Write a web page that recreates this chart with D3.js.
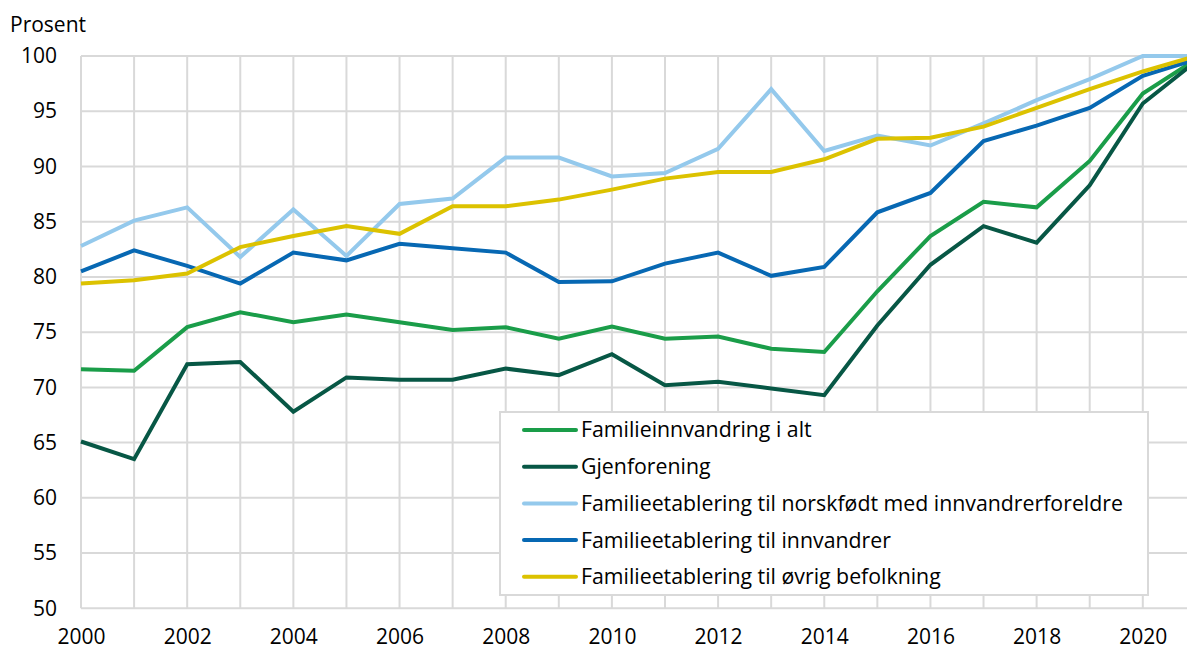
<!DOCTYPE html>
<html>
<head>
<meta charset="utf-8">
<script src="https://cdn.jsdelivr.net/npm/d3@7"></script>
<style>
  body { margin: 0; background: #fff; }
  svg { display: block; font-family: "Open Sans", "Noto Sans", sans-serif; }
</style>
</head>
<body>
<div id="chart"></div>
<script>
let svgWidth = 1187;
let svgHeight = 650;

// data
let years = d3.range(2000, 2022);
let familieinnvandring = [71.65, 71.5, 75.45, 76.8, 75.9, 76.6, 75.9, 75.2, 75.45, 74.4, 75.5, 74.4, 74.6, 73.5, 73.2, 78.7, 83.7, 86.8, 86.3, 90.5, 96.6, 99.7];
let gjenforening = [65.1, 63.5, 72.1, 72.3, 67.8, 70.9, 70.7, 70.7, 71.7, 71.1, 73.0, 70.2, 70.5, 69.9, 69.3, 75.6, 81.1, 84.6, 83.1, 88.3, 95.7, 99.5];
let norskfodt = [82.8, 85.1, 86.3, 81.8, 86.1, 81.9, 86.6, 87.1, 90.8, 90.8, 89.1, 89.4, 91.6, 97.0, 91.4, 92.8, 91.9, 93.9, 96.0, 97.9, 100, 100];
let innvandrer = [80.5, 82.4, 81.0, 79.4, 82.2, 81.5, 83.0, 82.6, 82.2, 79.55, 79.6, 81.2, 82.2, 80.1, 80.9, 85.85, 87.6, 92.3, 93.7, 95.3, 98.2, 99.7];
let ovrig = [79.4, 79.7, 80.3, 82.7, 83.7, 84.6, 83.9, 86.4, 86.4, 87.0, 87.9, 88.9, 89.5, 89.5, 90.65, 92.5, 92.6, 93.6, 95.3, 97.0, 98.6, 100];

let seriesNames = [
    "Familieinnvandring i alt",
    "Gjenforening",
    "Familieetablering til norskfødt med innvandrerforeldre",
    "Familieetablering til innvandrer",
    "Familieetablering til øvrig befolkning"
];
let seriesValues = [familieinnvandring, gjenforening, norskfodt, innvandrer, ovrig];
let seriesColors = ["#1a9d49", "#075745", "#94c9ec", "#0768b3", "#dcc200"];

let yTicks = [50, 55, 60, 65, 70, 75, 80, 85, 90, 95, 100];
let xTicks = [2000, 2002, 2004, 2006, 2008, 2010, 2012, 2014, 2016, 2018, 2020];

let fontSize = 21;

let svg = d3.select("#chart")
    .append("svg")
    .attr("width", svgWidth)
    .attr("height", svgHeight);

// scales
let x = d3.scaleLinear()
    .domain([2000, 2021])
    .range([81, 81 + 21 * 53.09]);

let y = d3.scaleLinear()
    .domain([50, 100])
    .range([608.3, 56]);

// grid
let grid = svg.append("g").attr("stroke", "#d9d9d9").attr("stroke-width", 2);

grid.selectAll(".hgrid")
    .data(yTicks)
    .enter()
    .append("line")
    .attr("x1", x(2000))
    .attr("x2", svgWidth)
    .attr("y1", d => y(d))
    .attr("y2", d => y(d));

grid.selectAll(".vgrid")
    .data(years)
    .enter()
    .append("line")
    .attr("x1", d => x(d))
    .attr("x2", d => x(d))
    .attr("y1", y(100))
    .attr("y2", y(50));

// axis labels
let leftAxis = d3.axisLeft(y).tickValues(yTicks).tickSize(0).tickPadding(24);
let yAxisG = svg.append("g")
    .attr("transform", `translate(${x(2000)}, 0)`)
    .call(leftAxis);
yAxisG.select(".domain").remove();
yAxisG.selectAll("text")
    .attr("font-size", fontSize)
    .attr("font-family", "Open Sans, sans-serif")
    .attr("fill", "#000");

let bottomAxis = d3.axisBottom(x).tickValues(xTicks).tickFormat(d3.format("d")).tickSize(0).tickPadding(20.5);
let xAxisG = svg.append("g")
    .attr("transform", `translate(0, ${y(50)})`)
    .call(bottomAxis);
xAxisG.select(".domain").remove();
xAxisG.selectAll("text")
    .attr("font-size", fontSize)
    .attr("font-family", "Open Sans, sans-serif")
    .attr("fill", "#000");

svg.append("text")
    .attr("x", 10)
    .attr("y", 32)
    .attr("font-size", fontSize)
    .attr("fill", "#000")
    .text("Prosent");

// lines
let line = d3.line()
    .x((d, i) => x(years[i]))
    .y(d => y(d));

svg.append("g")
    .selectAll("path")
    .data(seriesValues)
    .enter()
    .append("path")
    .attr("d", d => line(d))
    .attr("fill", "none")
    .attr("stroke", (d, i) => seriesColors[i])
    .attr("stroke-width", 4);

// legend
let legend = svg.append("g");
legend.append("rect")
    .attr("x", 500)
    .attr("y", 412)
    .attr("width", 648)
    .attr("height", 183)
    .attr("fill", "#fff")
    .attr("stroke", "#d9d9d9")
    .attr("stroke-width", 2);

let item = legend.selectAll(".item")
    .data(seriesNames)
    .enter()
    .append("g")
    .attr("transform", (d, i) => `translate(0, ${430 + i * 36.7})`);

item.append("line")
    .attr("x1", 524)
    .attr("x2", 576)
    .attr("stroke", (d, i) => seriesColors[i])
    .attr("stroke-width", 4)
    .attr("stroke-linecap", "round");

item.append("text")
    .attr("x", 581)
    .attr("dy", "0.35em")
    .attr("font-size", 21.3)
    .attr("fill", "#000")
    .text(d => d);
</script>
</body>
</html>
